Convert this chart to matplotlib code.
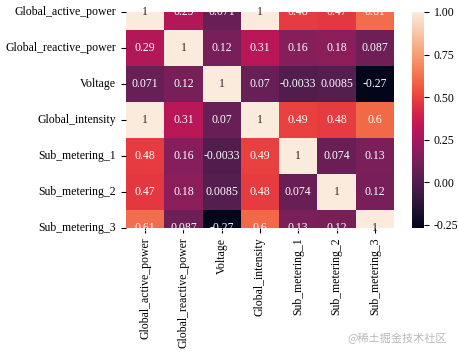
import numpy as np
import pandas as pd
import seaborn as sns
import matplotlib.pyplot as plt

cols = ["Global_active_power", "Global_reactive_power", "Voltage",
        "Global_intensity", "Sub_metering_1", "Sub_metering_2", "Sub_metering_3"]
gap = [1, 0.29, 0.071, 1, 0.48, 0.47, 0.61]
grp = [0.29, 1, 0.12, 0.31, 0.16, 0.18, 0.087]
volt = [0.071, 0.12, 1, 0.07, -0.0033, 0.0085, -0.27]
gi = [1, 0.31, 0.07, 1, 0.49, 0.48, 0.6]
sm1 = [0.48, 0.16, -0.0033, 0.49, 1, 0.074, 0.13]
sm2 = [0.47, 0.18, 0.0085, 0.48, 0.074, 1, 0.12]
sm3 = [0.61, 0.087, -0.27, 0.6, 0.13, 0.12, 1]

corr = pd.DataFrame([gap, grp, volt, gi, sm1, sm2, sm3], index=cols, columns=cols)

plt.rcParams['font.family'] = ['Liberation Serif', 'DejaVu Serif']
plt.rcParams['font.size'] = 8.5

W, H = 458, 355
fig = plt.figure(figsize=(W / 100, H / 100), dpi=100)
ax = fig.add_axes([126 / W, 1 - 228 / H, (394 - 126) / W, 216 / H])
cax = fig.add_axes([412 / W, 1 - 228 / H, 12 / W, 216 / H])

sns.heatmap(corr, annot=True, ax=ax, cbar_ax=cax, annot_kws={"size": 8.5})
# the old matplotlib cut-off look: half of top and bottom rows hidden
ax.set_ylim(6.5, 0.5)
ax.tick_params(axis="both", labelsize=8.5)
cax.tick_params(labelsize=8.5)
cax.set_yticks([-0.25, 0, 0.25, 0.5, 0.75, 1.0])
cax.set_yticklabels(["-0.25", "0.00", "0.25", "0.50", "0.75", "1.00"])

fig.text(447 / W, 1 - 338 / H, "@稀土掘金技术社区", ha="right", va="center",
         fontsize=8, color="#bbbbbb", family=["Noto Sans CJK SC", "DejaVu Sans"])

fig.savefig("out.png", dpi=100)
